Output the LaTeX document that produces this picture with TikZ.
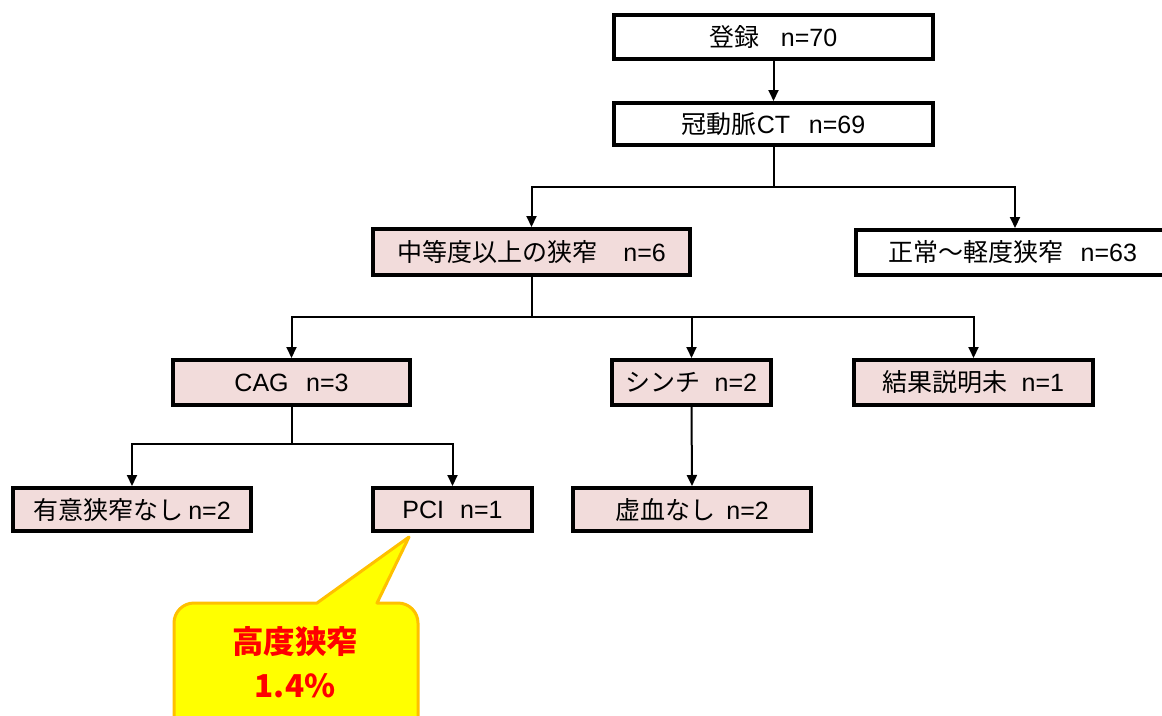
\documentclass[tikz,border=0pt]{standalone}
\usepackage{fontspec}
\setmainfont{Noto Sans CJK JP}
\newfontfamily\lat{Liberation Sans}
\usetikzlibrary{arrows.meta}
\definecolor{pinkfill}{HTML}{F2DCDB}
\definecolor{callfill}{HTML}{FFFF00}
\definecolor{calledge}{HTML}{FFC000}
\definecolor{callred}{HTML}{FF0000}
\begin{document}
\begin{tikzpicture}[x=1pt,y=-1pt,
  box/.style={draw=black,line width=4pt,fill=white,inner sep=0pt,font=\fontsize{25}{29}\selectfont},
  pbox/.style={box,fill=pinkfill},
  arr/.style={line width=2pt,-{Triangle[length=11pt,width=10pt]}}]
\useasboundingbox (0,0) rectangle (1162,715);
\fill[white] (0,0) rectangle (1162,715);
\clip (0,0) rectangle (1162,715);
% level 0-1
\node[box,minimum width=319pt,minimum height=44pt] (reg) at (773.5,37) {登録\hspace{0.85em}{\lat n=70}};
\node[box,minimum width=319pt,minimum height=42pt] (ct) at (773.5,124) {冠動脈{\lat CT}\hspace{0.75em}{\lat n=69}};
% level 2
\node[pbox,minimum width=317pt,minimum height=46pt] (mid) at (531.5,252) {中等度以上の狭窄\hspace{1.05em}{\lat n=6}};
\node[box,minimum width=318pt,minimum height=45pt,anchor=west] (norm) at (854,252.5) {\hspace{-0.2em}正常～軽度狭窄\hspace{0.7em}{\lat n=63}};
% level 3
\node[pbox,minimum width=237pt,minimum height=45pt] (cag) at (291.5,382.5) {{\lat CAG}\hspace{0.7em}{\lat n=3}};
\node[pbox,minimum width=159pt,minimum height=45pt] (sci) at (691.5,382.5) {シンチ\hspace{0.55em}{\lat n=2}};
\node[pbox,minimum width=239pt,minimum height=45pt] (res) at (973.5,382.5) {結果説明未\hspace{0.55em}{\lat n=1}};
% level 4
\node[pbox,minimum width=238pt,minimum height=43pt] (none) at (132,509.5) {有意狭窄なし\hspace{0.2em}{\lat n=2}};
\node[pbox,minimum width=159pt,minimum height=43pt] (pci) at (452.5,509.5) {{\lat PCI}\hspace{0.65em}{\lat n=1}};
\node[pbox,minimum width=238pt,minimum height=43pt] (isch) at (692,509.5) {虚血なし\hspace{0.45em}{\lat n=2}};
% connectors
\draw[arr] (reg.south) -- (ct.north);
\draw[arr] (ct.south) -- ++(0,40) -| (mid.north);
\draw[arr] (ct.south) -- ++(0,40) -| (norm.north);
\draw[arr] (mid.south) -- ++(0,40) -| (cag.north);
\draw[arr] (mid.south) -- ++(0,40) -| (sci.north);
\draw[arr] (mid.south) -- ++(0,40) -| (res.north);
\draw[arr] (cag.south) -- ++(0,37) -| (none.north);
\draw[arr] (cag.south) -- ++(0,37) -| (pci.north);
\draw[arr] (sci.south) -- (isch.north);
% callout
\filldraw[fill=callfill,draw=calledge,line width=3pt,line join=round]
  (409,537) -- (377,603) [rounded corners=20pt] -- (418,603) -- (418,760) -- (174,760) -- (174,603) [sharp corners] -- (317,603) -- cycle;
\node[font=\fontsize{31.5}{44}\selectfont\bfseries,text=callred,align=center] (callout) at (295,662) {高度狭窄\\1.4\%};
\end{tikzpicture}
\end{document}
